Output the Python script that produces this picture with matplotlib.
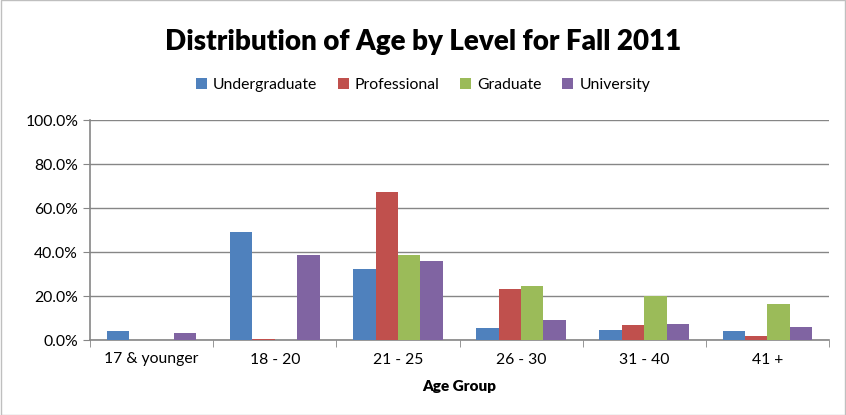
import matplotlib

matplotlib.use("Agg")
import matplotlib.pyplot as plt
import numpy as np
from matplotlib.ticker import PercentFormatter

categories = ["17 & younger", "18 - 20", "21 - 25", "26 - 30", "31 - 40", "41 +"]
series_names = ["Undergraduate", "Professional", "Graduate", "University"]
undergraduate = [4.1, 48.9, 32.5, 5.5, 4.7, 4.1]
professional = [0.0, 0.3, 67.4, 23.3, 6.8, 1.8]
graduate = [0.0, 0.0, 38.5, 24.5, 20.0, 16.4]
university = [3.3, 38.6, 35.7, 9.2, 7.2, 5.8]
colors = ["#4F81BD", "#C0504D", "#9BBB59", "#8064A2"]

plt.rcParams["font.family"] = ["Lato", "DejaVu Sans"]

fig = plt.figure(figsize=(8.46, 4.15), dpi=100)
ax = fig.add_axes([90 / 846, 1 - 340 / 415, (829 - 90) / 846, 220 / 415])

x = np.arange(len(categories))
bar_w = 1 / 5.5
for i, (vals, name, col) in enumerate(zip([undergraduate, professional, graduate, university], series_names, colors)):
    ax.bar(x + (i - 1.5) * bar_w, vals, width=bar_w, color=col, label=name, zorder=3)

ax.set_xlim(-0.5, len(categories) - 0.5)
ax.set_ylim(0, 100)
ax.set_yticks(np.arange(0, 101, 20))
ax.yaxis.set_major_formatter(PercentFormatter(decimals=1))
ax.set_xticks(x)
ax.set_xticklabels(categories)
ax.set_xticks(np.arange(-0.5, len(categories), 1), minor=True)
ax.tick_params(axis="x", which="major", length=0, labelsize=11.3, pad=9)
ax.tick_params(axis="x", which="minor", length=5, color="#868686", direction="out")
ax.tick_params(axis="y", length=5, color="#868686", labelsize=11.3, direction="out")
ax.grid(axis="y", color="#868686", linewidth=1, zorder=0)
for side in ["top", "right"]:
    ax.spines[side].set_visible(False)
for side in ["left", "bottom"]:
    ax.spines[side].set_color("#868686")
    ax.spines[side].set_linewidth(1.2)
ax.set_xlabel("Age Group", fontsize=11, fontweight="heavy", labelpad=10)

fig.text(0.5, 1 - 42 / 415, "Distribution of Age by Level for Fall 2011", ha="center", va="center",
         fontsize=20, fontweight="heavy")
fig.legend(loc="center", bbox_to_anchor=(0.5, 1 - 85 / 415), ncol=4, frameon=False, fontsize=11.3,
           handlelength=0.7, handleheight=0.7, handletextpad=0.4, columnspacing=1.3)

fig.add_artist(plt.Rectangle((0.001, 0.001), 0.998, 0.998, transform=fig.transFigure, fill=False,
                             edgecolor="#BFBFBF", linewidth=1))

fig.savefig("out.png", dpi=100)
